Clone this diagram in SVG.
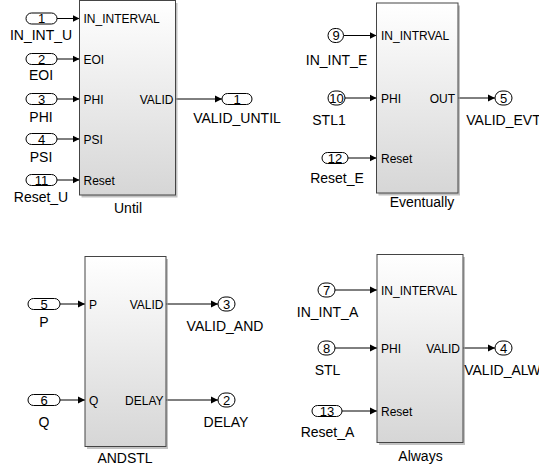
<svg xmlns="http://www.w3.org/2000/svg" width="539" height="471" viewBox="0 0 539 471">
<style>
.blk{fill:url(#g);stroke:#444;stroke-width:1}
.sh{fill:#9a9a9a;opacity:0.6}
.prt{fill:#fff;stroke:#000;stroke-width:1}
.ln{stroke:#000;stroke-width:1;fill:none}
text{font-family:"Liberation Sans",Arial,sans-serif;fill:#000}
.pl{font-size:12px}
.nl{font-size:14px;text-anchor:middle}
.num{font-size:13px;text-anchor:middle}
.r{text-anchor:end}
</style>
<defs>
<linearGradient id="g" x1="0" y1="0" x2="0" y2="1">
<stop offset="0" stop-color="#ffffff"/>
<stop offset="1" stop-color="#d6d6d6"/>
</linearGradient>
<marker id="a" markerWidth="8" markerHeight="8" refX="7" refY="4" orient="auto" markerUnits="userSpaceOnUse">
<path d="M0,0.5 L7,4 L0,7.5 Z" fill="#000"/>
</marker>
</defs>

<g id="connectors">
<path class="ln" marker-end="url(#a)" d="M57,18.5 H79.5"/>
<path class="ln" marker-end="url(#a)" d="M57,59 H79.5"/>
<path class="ln" marker-end="url(#a)" d="M57,99 H79.5"/>
<path class="ln" marker-end="url(#a)" d="M57,139 H79.5"/>
<path class="ln" marker-end="url(#a)" d="M57,180 H79.5"/>
<path class="ln" marker-end="url(#a)" d="M175.5,99 H222"/>
<path class="ln" marker-end="url(#a)" d="M344,35.5 H376.5"/>
<path class="ln" marker-end="url(#a)" d="M345,98 H376.5"/>
<path class="ln" marker-end="url(#a)" d="M348,158 H376.5"/>
<path class="ln" marker-end="url(#a)" d="M458,98 H495"/>
<path class="ln" marker-end="url(#a)" d="M60,304 H85"/>
<path class="ln" marker-end="url(#a)" d="M60,400 H85"/>
<path class="ln" marker-end="url(#a)" d="M166,304 H218"/>
<path class="ln" marker-end="url(#a)" d="M166,400 H218"/>
<path class="ln" marker-end="url(#a)" d="M335,290 H377"/>
<path class="ln" marker-end="url(#a)" d="M335,348 H377"/>
<path class="ln" marker-end="url(#a)" d="M342,411 H377"/>
<path class="ln" marker-end="url(#a)" d="M463,348 H495"/>
</g>

<g id="until">
<rect class="sh" x="81.5" y="3" width="96" height="194.5"/>
<rect class="blk" x="79.5" y="0.5" width="96" height="194.5"/>
<text class="pl" x="83.5" y="22.5">IN_INTERVAL</text>
<text class="pl" x="83.5" y="63.5">EOI</text>
<text class="pl" x="83.5" y="103.5">PHI</text>
<text class="pl" x="83.5" y="143.5">PSI</text>
<text class="pl" x="83.5" y="184.5">Reset</text>
<text class="pl r" x="173.5" y="103.5">VALID</text>
<text class="nl" x="128" y="213">Until</text>
</g>

<g id="in_int_u"><rect class="prt" x="26" y="13" width="31" height="11" rx="5.5"/><text class="num" x="41.5" y="23">1</text><text class="nl" x="41" y="40">IN_INT_U</text></g>
<g id="eoi"><rect class="prt" x="26" y="53.5" width="31" height="11" rx="5.5"/><text class="num" x="41.5" y="63.5">2</text><text class="nl" x="41" y="80">EOI</text></g>
<g id="phi"><rect class="prt" x="26" y="93.5" width="31" height="11" rx="5.5"/><text class="num" x="41.5" y="103.5">3</text><text class="nl" x="41" y="122">PHI</text></g>
<g id="psi"><rect class="prt" x="26" y="133.5" width="31" height="11" rx="5.5"/><text class="num" x="41.5" y="143.5">4</text><text class="nl" x="41" y="162">PSI</text></g>
<g id="reset_u"><rect class="prt" x="26" y="174.5" width="31" height="11" rx="5.5"/><text class="num" x="41.5" y="184.5">11</text><text class="nl" x="41" y="202">Reset_U</text></g>
<g id="valid_until"><rect class="prt" x="222" y="93.5" width="30" height="11" rx="5.5"/><text class="num" x="237" y="103.5">1</text><text class="nl" x="237" y="123">VALID_UNTIL</text></g>

<g id="eventually">
<rect class="sh" x="378.5" y="5.5" width="81.5" height="190"/>
<rect class="blk" x="376.5" y="3" width="81.5" height="190"/>
<text class="pl" x="381" y="39.5">IN_INTRVAL</text>
<text class="pl" x="381" y="102.5">PHI</text>
<text class="pl" x="381" y="162.5">Reset</text>
<text class="pl r" x="455" y="102.5">OUT</text>
<text class="nl" x="422" y="207">Eventually</text>
</g>
<g id="in_int_e"><rect class="prt" x="328" y="28.5" width="15.5" height="14" rx="7"/><text class="num" x="336" y="40">9</text><text class="nl" x="336.5" y="65">IN_INT_E</text></g>
<g id="stl1"><rect class="prt" x="328" y="91" width="17" height="14" rx="7"/><text class="num" x="336.5" y="102.5">10</text><text class="nl" x="329" y="125">STL1</text></g>
<g id="reset_e"><rect class="prt" x="322" y="152.5" width="26" height="11" rx="5.5"/><text class="num" x="335" y="162.5">12</text><text class="nl" x="337" y="183">Reset_E</text></g>
<g id="valid_evt"><rect class="prt" x="495" y="91" width="17" height="14" rx="7"/><text class="num" x="503.5" y="102.5">5</text><text class="nl" x="503.5" y="125">VALID_EVT</text></g>

<g id="andstl">
<rect class="sh" x="87" y="259" width="81" height="190"/>
<rect class="blk" x="85" y="256.5" width="81" height="190"/>
<text class="pl" x="89" y="308.5">P</text>
<text class="pl" x="89" y="404.5">Q</text>
<text class="pl r" x="163.5" y="308.5">VALID</text>
<text class="pl r" x="163.5" y="404.5">DELAY</text>
<text class="nl" x="125" y="463">ANDSTL</text>
</g>
<g id="p"><rect class="prt" x="28" y="298.5" width="32" height="11" rx="5.5"/><text class="num" x="44" y="308.5">5</text><text class="nl" x="44" y="327">P</text></g>
<g id="q"><rect class="prt" x="28" y="394.5" width="32" height="11" rx="5.5"/><text class="num" x="44" y="404.5">6</text><text class="nl" x="44" y="427">Q</text></g>
<g id="valid_and"><rect class="prt" x="218" y="297" width="17" height="14" rx="7"/><text class="num" x="226.5" y="308.5">3</text><text class="nl" x="225" y="331">VALID_AND</text></g>
<g id="delay"><rect class="prt" x="218" y="393" width="17" height="14" rx="7"/><text class="num" x="226.5" y="404.5">2</text><text class="nl" x="226" y="427">DELAY</text></g>

<g id="always">
<rect class="sh" x="379" y="257" width="86" height="188"/>
<rect class="blk" x="377" y="254.5" width="86" height="188"/>
<text class="pl" x="381" y="294.5">IN_INTERVAL</text>
<text class="pl" x="381" y="352.5">PHI</text>
<text class="pl" x="381" y="415.5">Reset</text>
<text class="pl r" x="460" y="352.5">VALID</text>
<text class="nl" x="420.5" y="461">Always</text>
</g>
<g id="in_int_a"><rect class="prt" x="318" y="283" width="17" height="14" rx="7"/><text class="num" x="326.5" y="294.5">7</text><text class="nl" x="327.5" y="317">IN_INT_A</text></g>
<g id="stl"><rect class="prt" x="318" y="341" width="17" height="14" rx="7"/><text class="num" x="326.5" y="352.5">8</text><text class="nl" x="327.5" y="375">STL</text></g>
<g id="reset_a"><rect class="prt" x="312" y="405.5" width="30" height="11" rx="5.5"/><text class="num" x="327" y="415.5">13</text><text class="nl" x="327.5" y="437">Reset_A</text></g>
<g id="valid_alw"><rect class="prt" x="495" y="341" width="17" height="14" rx="7"/><text class="num" x="503.5" y="352.5">4</text><text class="nl" x="502.5" y="375">VALID_ALW</text></g>
</svg>
